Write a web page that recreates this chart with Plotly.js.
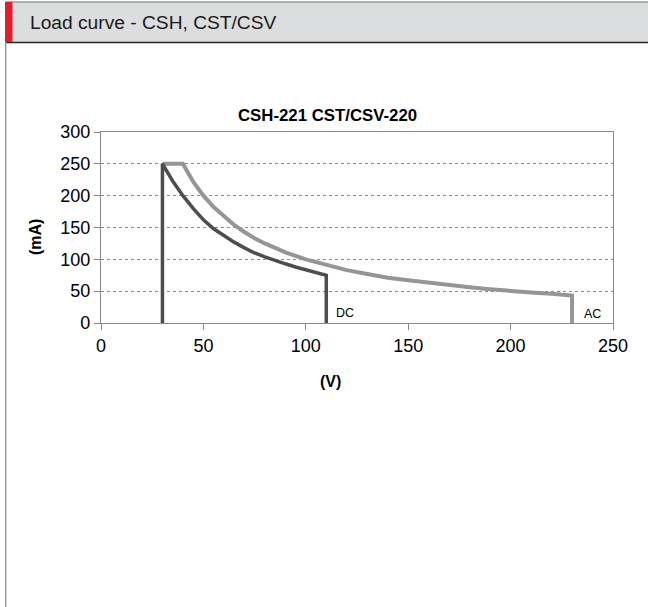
<!DOCTYPE html>
<html><head><meta charset="utf-8">
<script src="https://cdn.plot.ly/plotly-3.0.1.min.js"></script>
<style>html,body{margin:0;padding:0;background:#fff;}#chart{width:648px;height:607px;}</style>
</head><body><div id="chart"></div>
<script>
// DC curve (V, mA)
const dcVoltage = [30, 30, 35, 40, 45, 50, 55, 60, 65, 70, 75, 80, 85, 90, 95, 100, 105, 110, 110];
const dcCurrent = [0, 250, 223, 200, 180, 162, 148, 137, 127, 118, 110, 104, 98, 93, 88, 84, 79, 75, 0];
// AC curve (V, mA)
const acVoltage = [30, 40, 45, 50, 55, 60, 65, 70, 75, 80, 90, 100, 110, 120, 130, 140, 150, 160, 170, 180, 190, 200, 210, 220, 230, 230];
const acCurrent = [250, 250, 222, 200, 182, 167, 154, 143, 133, 125, 111, 100, 91, 83, 77, 71, 67, 63, 59, 56, 53, 50, 48, 46, 43, 0];
const xTicks = [0, 50, 100, 150, 200, 250];
const yTicks = [0, 50, 100, 150, 200, 250, 300];

const W = 648, H = 607, L = 101, R = 613, T = 132, B = 323;
const px = x => (x - L) / (R - L);
const py = y => (B - y) / (B - T);
const font = 'Liberation Sans, Arial, sans-serif';

const traces = [
  {x: acVoltage, y: acCurrent, mode: 'lines', line: {color: '#959595', width: 4}, hoverinfo: 'none'},
  {x: dcVoltage, y: dcCurrent, mode: 'lines', line: {color: '#4d4d4d', width: 3.5}, hoverinfo: 'none'}
];

const layout = {
  width: W, height: H,
  margin: {l: L, r: W - R, t: T, b: H - B, pad: 0},
  paper_bgcolor: '#fff', plot_bgcolor: '#fff',
  showlegend: false,
  font: {family: font, color: '#000'},
  xaxis: {range: [0, 250], tickvals: xTicks, ticktext: xTicks.map(String), showgrid: false, zeroline: false,
    showline: true, linecolor: '#8a8a8a', linewidth: 1.2, mirror: true,
    ticks: 'outside', ticklen: 6, tickcolor: '#8a8a8a', tickfont: {size: 18, family: font}, fixedrange: true},
  yaxis: {range: [0, 300], tickvals: yTicks, ticktext: yTicks.map(String), showgrid: true, gridcolor: '#8a8a8a', griddash: 'dot', gridwidth: 1, zeroline: false,
    showline: true, linecolor: '#8a8a8a', linewidth: 1.2, mirror: true,
    ticks: 'outside', ticklen: 6, tickcolor: '#8a8a8a', tickfont: {size: 18, family: font}, fixedrange: true},
  shapes: [
    {type: 'rect', xref: 'paper', yref: 'paper', x0: px(5), x1: px(649), y0: py(42.5), y1: py(2), fillcolor: '#dcdddf', line: {width: 0}, layer: 'below'},
    {type: 'line', xref: 'paper', yref: 'paper', x0: px(5), x1: px(649), y0: py(2), y1: py(2), line: {color: '#9a9a9a', width: 1.5}},
    {type: 'line', xref: 'paper', yref: 'paper', x0: px(5), x1: px(649), y0: py(42.5), y1: py(42.5), line: {color: '#222', width: 1.5}},
    {type: 'rect', xref: 'paper', yref: 'paper', x0: px(5), x1: px(12.5), y0: py(42), y1: py(2), fillcolor: '#e3202a', line: {width: 0}},
    {type: 'line', xref: 'paper', yref: 'paper', x0: px(5.7), x1: px(5.7), y0: py(42), y1: py(608), line: {color: '#9a9a9a', width: 1.5}}
  ],
  annotations: [
    {text: 'Load curve - CSH, CST/CSV', xref: 'paper', yref: 'paper', x: px(27.5), y: py(23), xanchor: 'left', yanchor: 'middle', showarrow: false,
      font: {family: font, size: 19.2, color: '#1a1a1a'}},
    {text: '<b>CSH-221 CST/CSV-220</b>', xref: 'paper', yref: 'paper', x: px(327.5), y: py(116), xanchor: 'center', yanchor: 'middle', showarrow: false,
      font: {family: font, size: 16.8, color: '#000'}},
    {text: '<b>(mA)</b>', xref: 'paper', yref: 'paper', x: px(35), y: py(237), xanchor: 'center', yanchor: 'middle', textangle: -90, showarrow: false,
      font: {family: font, size: 16, color: '#000'}},
    {text: '<b>(V)</b>', xref: 'paper', yref: 'paper', x: px(330), y: py(381), xanchor: 'center', yanchor: 'middle', showarrow: false,
      font: {family: font, size: 16, color: '#000'}},
    {text: 'DC', xref: 'x', yref: 'y', x: 114, y: 16, xanchor: 'left', yanchor: 'middle', showarrow: false,
      font: {family: font, size: 12.5, color: '#000'}},
    {text: 'AC', xref: 'x', yref: 'y', x: 235, y: 14, xanchor: 'left', yanchor: 'middle', showarrow: false,
      font: {family: font, size: 12.5, color: '#000'}}
  ]
};

Plotly.newPlot('chart', traces, layout, {staticPlot: true, displayModeBar: false});
</script>
</body></html>
